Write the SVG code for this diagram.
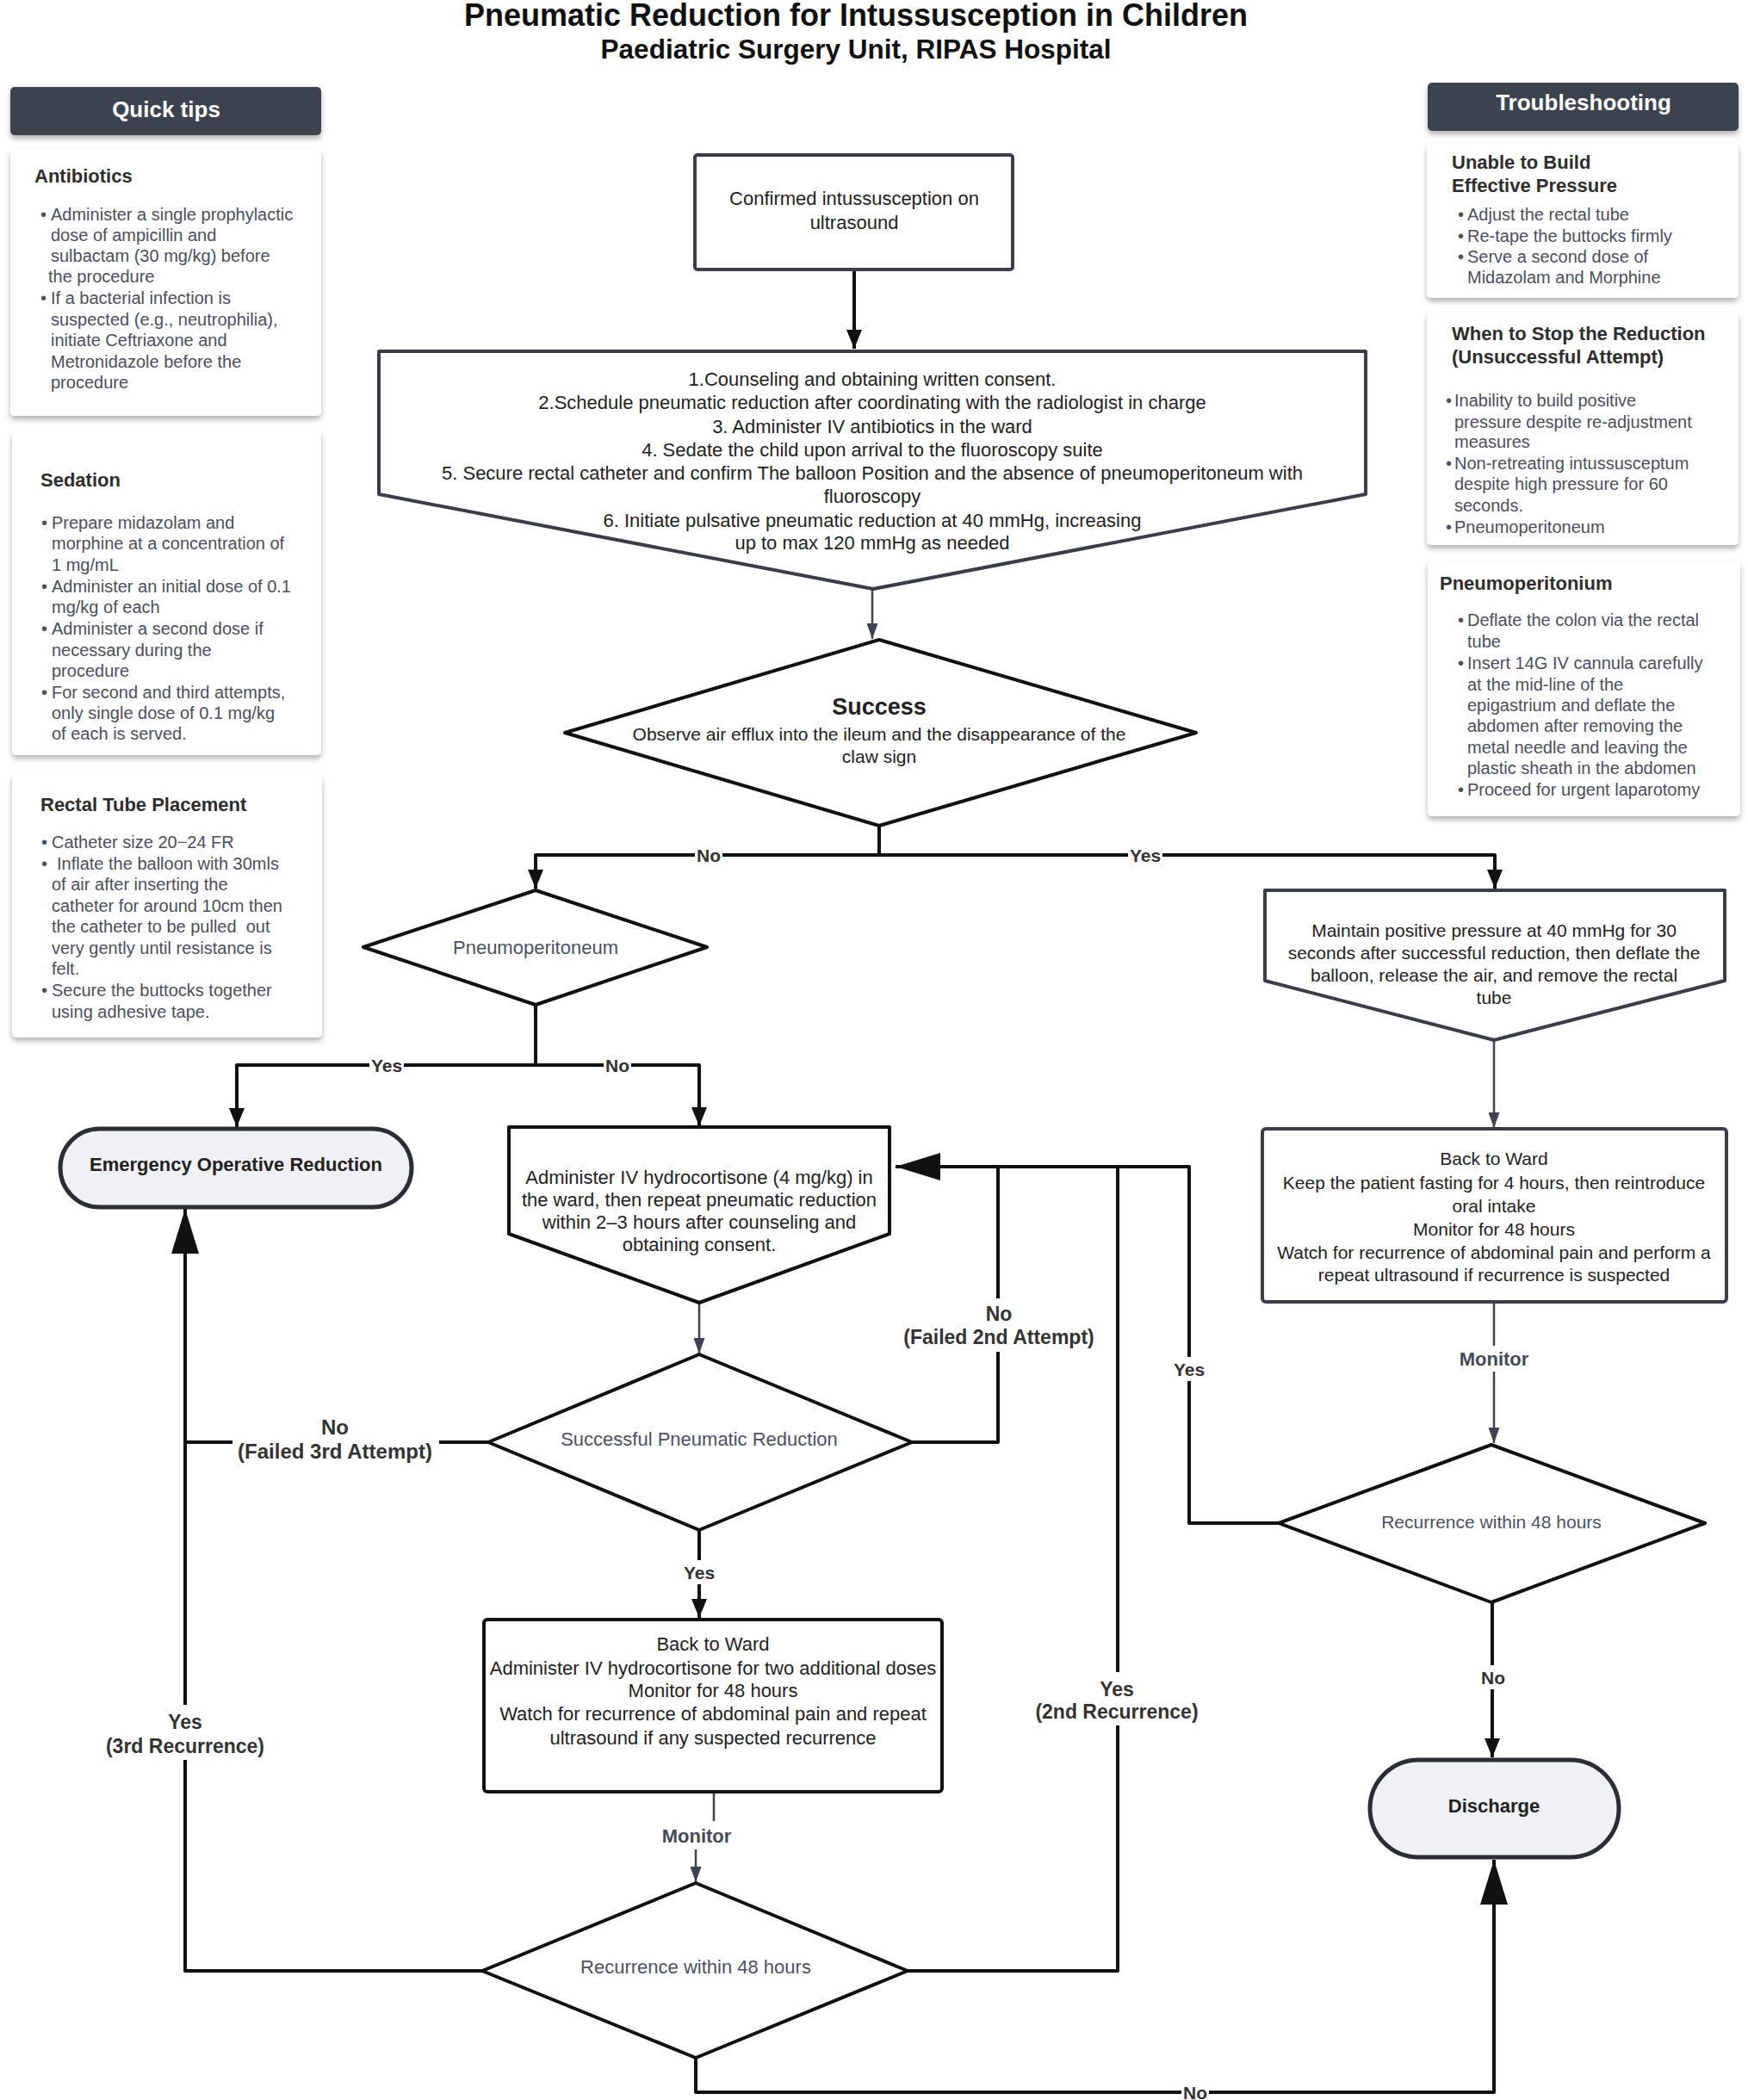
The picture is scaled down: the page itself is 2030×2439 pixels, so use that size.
<svg xmlns="http://www.w3.org/2000/svg" width="2030" height="2439" viewBox="0 0 2030 2439">
<style>
text{font-family:"Liberation Sans",Arial,sans-serif}
.title{font-size:36px;font-weight:bold;fill:#111;text-anchor:middle}
.sub{font-size:31.5px;font-weight:bold;fill:#111;text-anchor:middle}
.hdr{fill:#3d4350}
.hdrt{font-size:26px;font-weight:bold;fill:#fff;text-anchor:middle}
.card{fill:#fff}
.ct{font-size:22px;font-weight:bold;fill:#2d2d2d}
.bt{font-size:20px;fill:#4a4f5a}
.nt{font-size:22px;fill:#222;text-anchor:middle}
.ng{font-size:22px;fill:#4a5261;text-anchor:middle}
.nb{font-size:22px;font-weight:bold;fill:#222;text-anchor:middle}
.shp{fill:#fff;stroke:#3a3f47;stroke-width:4;stroke-linejoin:round}
.shb{fill:#fff;stroke:#111;stroke-width:4;stroke-linejoin:round}
.term{fill:#f0f1f4;stroke:#2a2e35;stroke-width:5}
.ck{fill:none;stroke:#111;stroke-width:4;stroke-linejoin:round}
.cg{fill:none;stroke:#3d4350;stroke-width:2.5}
.lb{font-size:21px;font-weight:bold;fill:#333;text-anchor:middle}
.lb2{font-size:23px;font-weight:bold;fill:#333;text-anchor:middle}
.lm{font-size:22px;font-weight:bold;fill:#444a55;text-anchor:middle}
.bg{fill:#fff}
</style>
<defs>
<filter id="sh" x="-10%" y="-10%" width="120%" height="130%">
<feDropShadow dx="0" dy="4" stdDeviation="3" flood-color="#000" flood-opacity="0.3"/>
</filter>
<marker id="ak" markerUnits="userSpaceOnUse" markerWidth="22" markerHeight="18" refX="22" refY="9" orient="auto"><path d="M0,0 L22,9 L0,18 z" fill="#111"/></marker>
<marker id="ag" markerUnits="userSpaceOnUse" markerWidth="18" markerHeight="13" refX="18" refY="6.5" orient="auto"><path d="M0,0 L18,6.5 L0,13 z" fill="#3d4350"/></marker>
<marker id="abig" markerUnits="userSpaceOnUse" markerWidth="52" markerHeight="32" refX="52" refY="16" orient="auto"><path d="M0,0 L52,16 L0,32 z" fill="#111"/></marker>
</defs>
<rect width="2030" height="2439" fill="#fff"/>

<g id="title">
<text class="title" x="994" y="30">Pneumatic Reduction for Intussusception in Children</text>
<text class="sub" x="994" y="68">Paediatric Surgery Unit, RIPAS Hospital</text>
</g>

<g id="quick-tips">
<rect class="hdr" x="12" y="101" width="361" height="56" rx="5" filter="url(#sh)"/>
<text class="hdrt" x="193" y="136">Quick tips</text>
</g>
<g id="antibiotics">
<rect class="card" x="12" y="173" width="361" height="310" rx="5" filter="url(#sh)"/>
<text class="ct" x="40" y="212">Antibiotics</text>
<text class="bt" x="47" y="256">•</text><text class="bt" x="59" y="256">Administer a single prophylactic</text>
<text class="bt" x="59" y="280">dose of ampicillin and</text>
<text class="bt" x="59" y="304">sulbactam (30 mg/kg) before</text>
<text class="bt" x="56" y="328">the procedure</text>
<text class="bt" x="47" y="353">•</text><text class="bt" x="59" y="353">If a bacterial infection is</text>
<text class="bt" x="59" y="378">suspected (e.g., neutrophilia),</text>
<text class="bt" x="59" y="402">initiate Ceftriaxone and</text>
<text class="bt" x="59" y="427">Metronidazole before the</text>
<text class="bt" x="59" y="451">procedure</text>
</g>
<g id="sedation">
<rect class="card" x="14" y="500" width="359" height="377" rx="5" filter="url(#sh)"/>
<text class="ct" x="47" y="565">Sedation</text>
<text class="bt" x="48" y="614">•</text><text class="bt" x="60" y="614">Prepare midazolam and</text>
<text class="bt" x="60" y="638">morphine at a concentration of</text>
<text class="bt" x="60" y="663">1 mg/mL</text>
<text class="bt" x="48" y="688">•</text><text class="bt" x="60" y="688">Administer an initial dose of 0.1</text>
<text class="bt" x="60" y="712">mg/kg of each</text>
<text class="bt" x="48" y="737">•</text><text class="bt" x="60" y="737">Administer a second dose if</text>
<text class="bt" x="60" y="762">necessary during the</text>
<text class="bt" x="60" y="786">procedure</text>
<text class="bt" x="48" y="811">•</text><text class="bt" x="60" y="811">For second and third attempts,</text>
<text class="bt" x="60" y="835">only single dose of 0.1 mg/kg</text>
<text class="bt" x="60" y="859">of each is served.</text>
</g>
<g id="rectal-tube">
<rect class="card" x="14" y="899" width="360" height="306" rx="5" filter="url(#sh)"/>
<text class="ct" x="47" y="942">Rectal Tube Placement</text>
<text class="bt" x="48" y="985">•</text><text class="bt" x="60" y="985">Catheter size 20−24 FR</text>
<text class="bt" x="48" y="1010">•</text><text class="bt" x="66" y="1010">Inflate the balloon with 30mls</text>
<text class="bt" x="60" y="1034">of air after inserting the</text>
<text class="bt" x="60" y="1059">catheter for around 10cm then</text>
<text class="bt" x="60" y="1083" xml:space="preserve">the catheter to be pulled  out</text>
<text class="bt" x="60" y="1108">very gently until resistance is</text>
<text class="bt" x="60" y="1132">felt.</text>
<text class="bt" x="48" y="1157">•</text><text class="bt" x="60" y="1157">Secure the buttocks together</text>
<text class="bt" x="60" y="1182">using adhesive tape.</text>
</g>

<g id="troubleshooting">
<rect class="hdr" x="1658" y="96" width="361" height="56" rx="5" filter="url(#sh)"/>
<text class="hdrt" x="1839" y="128">Troubleshooting</text>
</g>
<g id="unable-pressure">
<rect class="card" x="1657" y="167" width="362" height="179" rx="5" filter="url(#sh)"/>
<text class="ct" x="1686" y="196">Unable to Build</text>
<text class="ct" x="1686" y="223">Effective Pressure</text>
<text class="bt" x="1693" y="256">•</text><text class="bt" x="1704" y="256">Adjust the rectal tube</text>
<text class="bt" x="1693" y="281">•</text><text class="bt" x="1704" y="281">Re-tape the buttocks firmly</text>
<text class="bt" x="1693" y="305">•</text><text class="bt" x="1704" y="305">Serve a second dose of</text>
<text class="bt" x="1704" y="329">Midazolam and Morphine</text>
</g>
<g id="when-to-stop">
<rect class="card" x="1657" y="363" width="362" height="270" rx="5" filter="url(#sh)"/>
<text class="ct" x="1686" y="395">When to Stop the Reduction</text>
<text class="ct" x="1686" y="422">(Unsuccessful Attempt)</text>
<text class="bt" x="1679" y="472">•</text><text class="bt" x="1689" y="472">Inability to build positive</text>
<text class="bt" x="1689" y="497">pressure despite re-adjustment</text>
<text class="bt" x="1689" y="520">measures</text>
<text class="bt" x="1679" y="545">•</text><text class="bt" x="1689" y="545">Non-retreating intussusceptum</text>
<text class="bt" x="1689" y="569">despite high pressure for 60</text>
<text class="bt" x="1689" y="594">seconds.</text>
<text class="bt" x="1679" y="619">•</text><text class="bt" x="1689" y="619">Pneumoperitoneum</text>
</g>
<g id="pneumoperitonium-card">
<rect class="card" x="1658" y="652" width="363" height="296" rx="5" filter="url(#sh)"/>
<text class="ct" x="1672" y="685">Pneumoperitonium</text>
<text class="bt" x="1693" y="727">•</text><text class="bt" x="1704" y="727">Deflate the colon via the rectal</text>
<text class="bt" x="1704" y="752">tube</text>
<text class="bt" x="1693" y="777">•</text><text class="bt" x="1704" y="777">Insert 14G IV cannula carefully</text>
<text class="bt" x="1704" y="802">at the mid-line of the</text>
<text class="bt" x="1704" y="826">epigastrium and deflate the</text>
<text class="bt" x="1704" y="850">abdomen after removing the</text>
<text class="bt" x="1704" y="875">metal needle and leaving the</text>
<text class="bt" x="1704" y="899">plastic sheath in the abdomen</text>
<text class="bt" x="1693" y="924">•</text><text class="bt" x="1704" y="924">Proceed for urgent laparotomy</text>
</g>

<g id="connectors">
<path class="ck" d="M992,313 V405" marker-end="url(#ak)" stroke-width="3.5"/>
<path class="cg" d="M1013,684 V742" marker-end="url(#ag)"/>
<path class="ck" d="M1021,959 V993 H622 V1032" marker-end="url(#ak)"/>
<path class="ck" d="M1021,993 H1736 V1032" marker-end="url(#ak)"/>
<path class="ck" d="M622,1167 V1237 H275 V1309" marker-end="url(#ak)"/>
<path class="ck" d="M622,1237 H812 V1308" marker-end="url(#ak)"/>
<path class="cg" d="M1735,1208 V1310" marker-end="url(#ag)"/>
<path class="cg" d="M1735,1512 V1676" marker-end="url(#ag)"/>
<path class="ck" d="M1485,1769 H1381 V1355 H1040" marker-end="url(#abig)"/>
<path class="ck" d="M1059,1675 H1159 V1355"/>
<path class="ck" d="M1054,2289 H1298 V1355"/>
<path class="cg" d="M812,1513 V1572" marker-end="url(#ag)"/>
<path class="ck" d="M567,1675 H215 V1404" marker-end="url(#abig)"/>
<path class="ck" d="M560,2289 H215 V1675"/>
<path class="ck" d="M812,1777 V1879" marker-end="url(#ak)"/>
<path class="cg" d="M829,2081 V2115"/>
<path class="cg" d="M808,2148 V2186" marker-end="url(#ag)"/>
<path class="ck" d="M1733,1861 V2041" marker-end="url(#ak)"/>
<path class="ck" d="M808,2390 V2430 H1735 V2160" marker-end="url(#abig)"/>
</g>

<g id="labels">
<rect class="bg" x="807" y="980" width="32" height="26"/><text class="lb" x="823" y="1001">No</text>
<rect class="bg" x="1310" y="980" width="40" height="26"/><text class="lb" x="1330" y="1001">Yes</text>
<rect class="bg" x="429" y="1224" width="40" height="26"/><text class="lb" x="449" y="1245">Yes</text>
<rect class="bg" x="701" y="1224" width="32" height="26"/><text class="lb" x="717" y="1245">No</text>
<rect class="bg" x="1045" y="1508" width="230" height="62"/><text class="lb2" x="1160" y="1534">No</text><text class="lb2" x="1160" y="1561">(Failed 2nd Attempt)</text>
<rect class="bg" x="1360" y="1576" width="42" height="28"/><text class="lb" x="1381" y="1598">Yes</text>
<rect class="bg" x="1688" y="1563" width="94" height="30"/><text class="lm" x="1735" y="1586">Monitor</text>
<rect class="bg" x="270" y="1642" width="240" height="62"/><text class="lb2" x="389" y="1666" style="font-size:24px">No</text><text class="lb2" x="389" y="1694" style="font-size:24px">(Failed 3rd Attempt)</text>
<rect class="bg" x="791" y="1812" width="42" height="28"/><text class="lb" x="812" y="1834">Yes</text>
<rect class="bg" x="760" y="2116" width="98" height="30"/><text class="lm" x="809" y="2140">Monitor</text>
<rect class="bg" x="1200" y="1942" width="195" height="62"/><text class="lb2" x="1297" y="1970">Yes</text><text class="lb2" x="1297" y="1996">(2nd Recurrence)</text>
<rect class="bg" x="120" y="1980" width="190" height="64"/><text class="lb2" x="215" y="2008">Yes</text><text class="lb2" x="215" y="2036">(3rd Recurrence)</text>
<rect class="bg" x="1717" y="1934" width="34" height="28"/><text class="lb" x="1734" y="1956">No</text>
<rect class="bg" x="1372" y="2418" width="32" height="21"/><text class="lb" x="1388" y="2438">No</text>
</g>

<g id="confirmed">
<rect class="shp" x="807" y="180" width="369" height="133" rx="3"/>
<text class="nt" x="992" y="238">Confirmed intussusception on</text>
<text class="nt" x="992" y="266">ultrasound</text>
</g>
<g id="steps">
<path class="shp" d="M440,408 H1586 V574 L1014,684 L440,574 Z"/>
<text class="nt" x="1013" y="448">1.Counseling and obtaining written consent.</text>
<text class="nt" x="1013" y="475">2.Schedule pneumatic reduction after coordinating with the radiologist in charge</text>
<text class="nt" x="1013" y="503">3. Administer IV antibiotics in the ward</text>
<text class="nt" x="1013" y="530">4. Sedate the child upon arrival to the fluoroscopy suite</text>
<text class="nt" x="1013" y="557">5. Secure rectal catheter and confirm The balloon Position and the absence of pneumoperitoneum with</text>
<text class="nt" x="1013" y="584">fluoroscopy</text>
<text class="nt" x="1013" y="612">6. Initiate pulsative pneumatic reduction at 40 mmHg, increasing</text>
<text class="nt" x="1013" y="638">up to max 120 mmHg as needed</text>
</g>
<g id="success">
<polygon class="shb" points="1021,743 1389,851 1021,959 656,851"/>
<text class="nb" x="1021" y="830" style="font-size:27px">Success</text>
<text class="nt" x="1021" y="860" style="font-size:21px">Observe air efflux into the ileum and the disappearance of the</text>
<text class="nt" x="1021" y="886" style="font-size:21px">claw sign</text>
</g>
<g id="pneumoperitoneum">
<polygon class="shb" points="622,1034 821,1100 622,1167 422,1100" stroke-width="3.5"/>
<text class="ng" x="622" y="1108">Pneumoperitoneum</text>
</g>
<g id="maintain">
<path class="shp" d="M1469,1034 H2003 V1139 L1735,1208 L1469,1139 Z"/>
<text class="nt" x="1735" y="1088" style="font-size:21px">Maintain positive pressure at 40 mmHg for 30</text>
<text class="nt" x="1735" y="1114" style="font-size:21px">seconds after successful reduction, then deflate the</text>
<text class="nt" x="1735" y="1140" style="font-size:21px">balloon, release the air, and remove the rectal</text>
<text class="nt" x="1735" y="1166" style="font-size:21px">tube</text>
</g>
<g id="back-to-ward-1">
<rect class="shp" x="1466" y="1311" width="539" height="201" rx="4"/>
<text class="nt" x="1735" y="1353" style="font-size:21px">Back to Ward</text>
<text class="nt" x="1735" y="1381" style="font-size:21px">Keep the patient fasting for 4 hours, then reintroduce</text>
<text class="nt" x="1735" y="1408" style="font-size:21px">oral intake</text>
<text class="nt" x="1735" y="1435" style="font-size:21px">Monitor for 48 hours</text>
<text class="nt" x="1735" y="1462" style="font-size:21px">Watch for recurrence of abdominal pain and perform a</text>
<text class="nt" x="1735" y="1488" style="font-size:21px">repeat ultrasound if recurrence is suspected</text>
</g>
<g id="recurrence-1">
<polygon class="shb" points="1732,1678 1980,1769 1732,1861 1485,1769" stroke-width="3.5"/>
<text class="ng" x="1732" y="1775" style="font-size:21px">Recurrence within 48 hours</text>
</g>
<g id="emergency">
<rect class="term" x="70" y="1311" width="408" height="91" rx="45.5"/>
<text class="nb" x="274" y="1360">Emergency Operative Reduction</text>
</g>
<g id="hydrocortisone">
<path class="shb" d="M591,1309 H1033 V1433 L812,1513 L591,1433 Z"/>
<text class="nt" x="812" y="1375">Administer IV hydrocortisone (4 mg/kg) in</text>
<text class="nt" x="812" y="1401">the ward, then repeat pneumatic reduction</text>
<text class="nt" x="812" y="1427">within 2–3 hours after counseling and</text>
<text class="nt" x="812" y="1453">obtaining consent.</text>
</g>
<g id="successful-reduction">
<polygon class="shb" points="812,1573 1059,1675 812,1777 567,1675"/>
<text class="ng" x="812" y="1679">Successful Pneumatic Reduction</text>
</g>
<g id="back-to-ward-2">
<rect class="shb" x="562" y="1881" width="532" height="200" rx="4"/>
<text class="nt" x="828" y="1917">Back to Ward</text>
<text class="nt" x="828" y="1945">Administer IV hydrocortisone for two additional doses</text>
<text class="nt" x="828" y="1971">Monitor for 48 hours</text>
<text class="nt" x="828" y="1998">Watch for recurrence of abdominal pain and repeat</text>
<text class="nt" x="828" y="2026">ultrasound if any suspected recurrence</text>
</g>
<g id="recurrence-2">
<polygon class="shb" points="808,2187 1054,2289 808,2390 560,2289"/>
<text class="ng" x="808" y="2292">Recurrence within 48 hours</text>
</g>
<g id="discharge">
<rect class="term" x="1591" y="2044" width="289" height="113" rx="56.5" stroke="#111" stroke-width="6"/>
<text class="nb" x="1735" y="2105">Discharge</text>
</g>
</svg>
